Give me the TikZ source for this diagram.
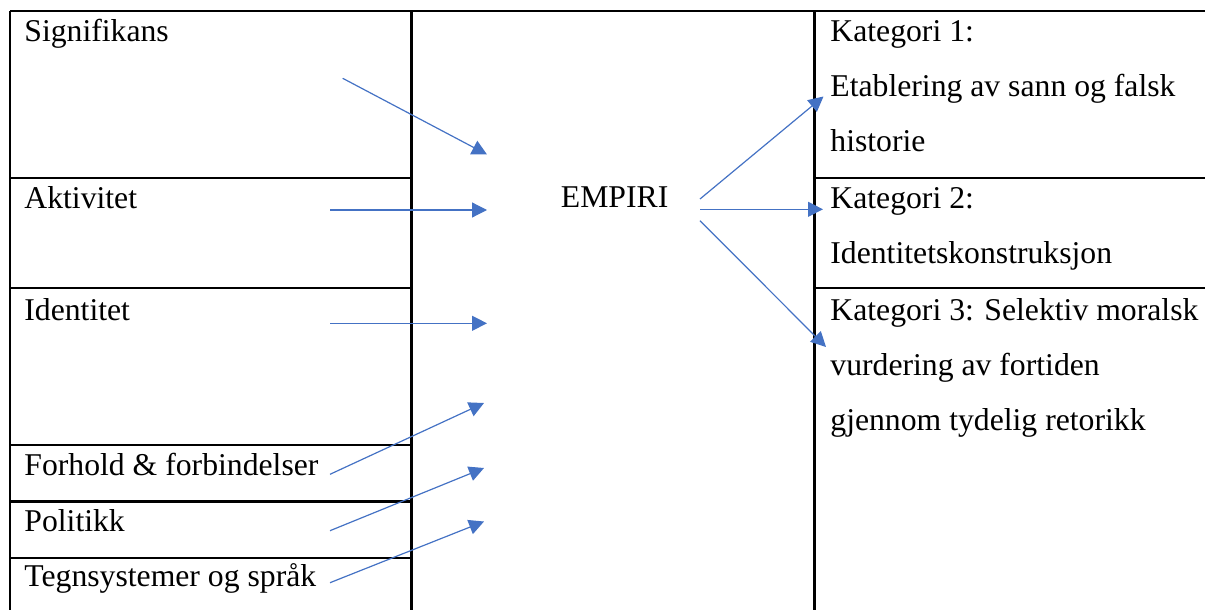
\documentclass[tikz,border=0pt]{standalone}
\usepackage{fontspec}
\setmainfont{Liberation Serif}
\usetikzlibrary{arrows.meta}
\definecolor{arrowblue}{HTML}{4472C4}
\begin{document}
\begin{tikzpicture}[x=0.5pt,y=-0.5pt,
  rule/.style={line width=1.1pt,black},
  lbl/.style={anchor=base west,inner sep=0pt,font=\rmfamily\fontsize{15.85pt}{27.5pt}\selectfont},
  conn/.style={arrowblue,line width=0.6pt,-{Triangle[length=7.5pt,width=7.5pt]}}]
\useasboundingbox (0,0) rectangle (1205,610);
% table rules
\draw[rule] (10,11) -- (1205,11);
\draw[rule] (10,11) -- (10,610);
\draw[rule] (411.5,11) -- (411.5,610);
\draw[rule] (814.5,11) -- (814.5,610);
\foreach \yy in {178,288,445,501.5,558} \draw[rule] (10,\yy) -- (411.5,\yy);
\foreach \yy in {178,288} \draw[rule] (814.5,\yy) -- (1205,\yy);
% left labels
\node[lbl] (sig) at (24,41.5) {Signifikans};
\node[lbl] (akt) at (24,208) {Aktivitet};
\node[lbl] (ide) at (24,320) {Identitet};
\node[lbl] (for) at (24,475) {Forhold \& forbindelser};
\node[lbl] (pol) at (24,531.5) {Politikk};
\node[lbl] (teg) at (24,586.5) {Tegnsystemer og språk};
% centre
\node[lbl] (emp) at (560.5,207.7) {EMPIRI};
% right labels
\node[lbl] (k1a) at (830,42) {Kategori 1:};
\node[lbl] (k1b) at (830,97) {Etablering av sann og falsk};
\node[lbl] (k1c) at (830,152) {historie};
\node[lbl] (k2a) at (830,208) {Kategori 2:};
\node[lbl] (k2b) at (830,263) {Identitetskonstruksjon};
\node[lbl] (k3a) at (830,320) {Kategori 3: Selektiv moralsk};
\node[lbl] (k3b) at (830,375) {vurdering av fortiden};
\node[lbl] (k3c) at (830,430) {gjennom tydelig retorikk};
% arrow endpoints
\coordinate (s1) at (342.7,78.3);   \coordinate (e1) at (487,154.5);
\coordinate (s2) at (330,210);      \coordinate (e2) at (487,210);
\coordinate (s3) at (330,323.3);    \coordinate (e3) at (487,323.3);
\coordinate (s4) at (330,474.3);    \coordinate (e4) at (484,403);
\coordinate (s5) at (330,530.7);    \coordinate (e5) at (484,468);
\coordinate (s6) at (330,582.7);    \coordinate (e6) at (484,521.5);
\coordinate (r0a) at (700,199);     \coordinate (r1) at (823.5,96.5);
\coordinate (r0b) at (700,209.3);   \coordinate (r2) at (823,209.3);
\coordinate (r0c) at (700,220.7);   \coordinate (r3) at (826,347);
% arrows
\draw[conn] (s1) -- (e1);
\draw[conn] (s2) -- (e2);
\draw[conn] (s3) -- (e3);
\draw[conn] (s4) -- (e4);
\draw[conn] (s5) -- (e5);
\draw[conn] (s6) -- (e6);
\draw[conn] (r0a) -- (r1);
\draw[conn] (r0b) -- (r2);
\draw[conn] (r0c) -- (r3);
\end{tikzpicture}
\end{document}
